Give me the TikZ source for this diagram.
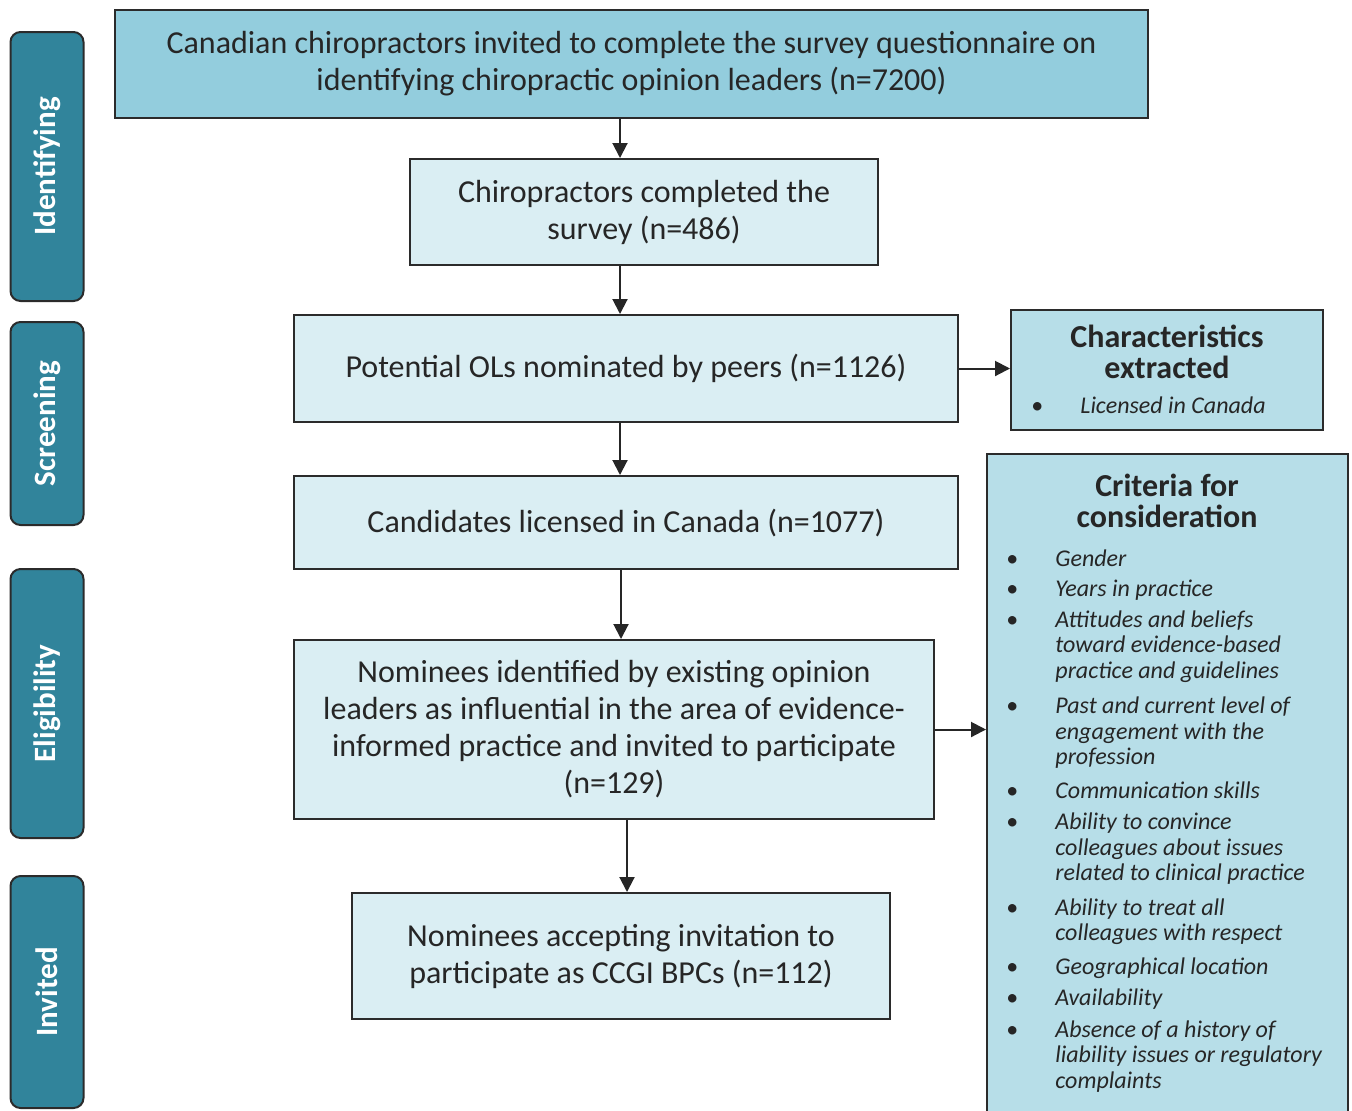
\documentclass[tikz,border=0pt]{standalone}
\usepackage{fontspec}
\setmainfont{Carlito}
\usetikzlibrary{arrows.meta,positioning}

\definecolor{ink}{HTML}{262626}
\definecolor{edge}{HTML}{2B2B2B}
\definecolor{tabblue}{HTML}{31849B}
\definecolor{midblue}{HTML}{93CDDD}
\definecolor{lightblue}{HTML}{DAEEF3}
\definecolor{paleblue}{HTML}{B7DEE8}

\newcommand{\critbullet}{\llap{\normalfont\textbullet\hspace{18.6pt}}}

\tikzset{
	flowbox/.style={draw=edge, line width=1pt, fill=lightblue, text=ink, align=center,
		inner sep=0pt, font=\fontsize{16}{18.5}\selectfont},
	topbox/.style={flowbox, fill=midblue},
	sidebox/.style={draw=edge, line width=1pt, fill=paleblue, inner sep=0pt},
	phasetab/.style={draw=edge, line width=1pt, fill=tabblue, rounded corners=5pt, rotate=90,
		text=white, inner sep=0pt, font=\fontsize{15.5}{18}\selectfont\bfseries},
	sidetitle/.style={text=ink, align=center, inner sep=0pt, font=\fontsize{16}{15.5}\selectfont\bfseries},
	sideitem/.style={text=ink, align=left, inner sep=0pt, font=\fontsize{12}{12.75}\selectfont\itshape},
	arr/.style={draw=ink, line width=1pt, -{Triangle[length=7.5pt,width=7.5pt]}},
}

\begin{document}
\begin{tikzpicture}[x=0.5pt,y=-0.5pt]
	\useasboundingbox (0,0) rectangle (1352,1110);

	% Phase tabs
	\foreach \lbl/\yc/\len in {Identifying/166.5/134.5pt, Screening/423.5/101.5pt, Eligibility/703.5/134.5pt, Invited/992/116pt}	{
		\node[phasetab, minimum width=\len, minimum height=36.5pt] (tab\lbl) at (47,\yc) {\lbl};
	}

	% Flow boxes
	\node[topbox, minimum width=516.5pt, minimum height=54pt] (invited) at (631.5,64)
		{Canadian chiropractors invited to complete the survey questionnaire on\\identifying chiropractic opinion leaders (n=7200)};
	\node[flowbox, minimum width=234pt, minimum height=53pt] (completed) at (644,212)
		{Chiropractors completed the\\survey (n=486)};
	\node[flowbox, minimum width=332pt, minimum height=53.5pt] (nominated) at (626,368.5)
		{Potential OLs nominated by peers (n=1126)};
	\node[flowbox, minimum width=332pt, minimum height=46.5pt] (licensed) at (626,522.5)
		{Candidates licensed in Canada (n=1077)};
	\node[flowbox, minimum width=320pt, minimum height=89.5pt] (nominees) at (614,729.5)
		{Nominees identified by existing opinion\\leaders as influential in the area of evidence-\\informed practice and invited to participate\\(n=129)};
	\node[flowbox, minimum width=269pt, minimum height=63pt] (accepting) at (621,956)
		{Nominees accepting invitation to\\participate as CCGI BPCs (n=112)};

	% Characteristics
	\node[sidebox, minimum width=156pt, minimum height=60pt] (extracted) at (1167,370) {};
	\node[sidetitle, anchor=north] (extractedTitle) at (1167,325) {Characteristics\\extracted};
	\node[sideitem, anchor=north west] (extractedList) at (1080,396) {\critbullet Licensed in Canada};

	% Criteria
	\node[sidebox, minimum width=180.5pt, minimum height=333pt] (criteria) at (1167.5,787) {};
	\node[sidetitle, anchor=north] (criteriaTitle) at (1167,474) {Criteria for\\consideration};
	\node[sideitem, anchor=north west] (criteriaList) at (1055,549) {%
		\critbullet Gender\\[2.5pt]
		\critbullet Years in practice\\[2.5pt]
		\critbullet Attitudes and beliefs\\toward evidence-based\\practice and guidelines\\[5pt]
		\critbullet Past and current level of\\engagement with the\\profession\\[4pt]
		\critbullet Communication skills\\[3pt]
		\critbullet Ability to convince\\colleagues about issues\\related to clinical practice\\[4.5pt]
		\critbullet Ability to treat all\\colleagues with respect\\[4pt]
		\critbullet Geographical location\\[3pt]
		\critbullet Availability\\[3pt]
		\critbullet Absence of a history of\\liability issues or regulatory\\complaints};

	% Arrows
	\coordinate (spine) at (620,0);
	\coordinate (spineB) at (621,0);
	\coordinate (spineC) at (627,0);
	\draw[arr] (invited.south -| spine) -- (completed.north -| spine);
	\draw[arr] (completed.south -| spine) -- (nominated.north -| spine);
	\draw[arr] (nominated.south -| spine) -- (licensed.north -| spine);
	\draw[arr] (licensed.south -| spineB) -- (nominees.north -| spineB);
	\draw[arr] (nominees.south -| spineC) -- (accepting.north -| spineC);
	\draw[arr] (nominated.east) -- (nominated.east -| extracted.west);
	\draw[arr] (nominees.east) -- (nominees.east -| criteria.west);
\end{tikzpicture}
\end{document}
